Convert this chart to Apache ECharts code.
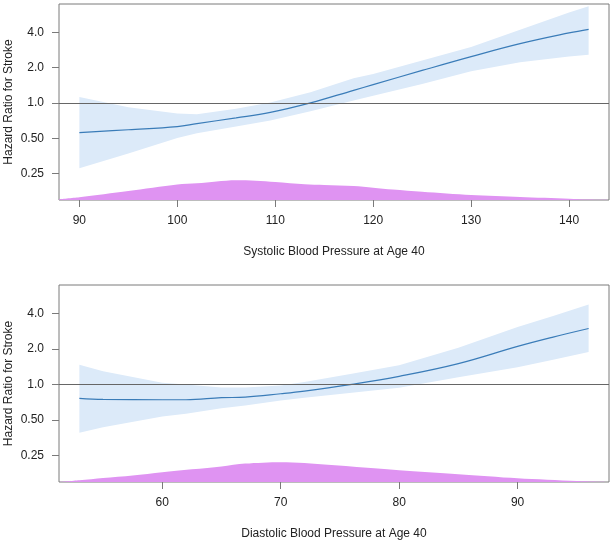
<!DOCTYPE html>
<html>
<head>
<meta charset="utf-8">
<script src="https://cdn.jsdelivr.net/npm/echarts@6/dist/echarts.min.js"></script>
<style>
html,body{margin:0;padding:0;background:#fff;}
#chart{width:616px;height:545px;}
</style>
</head>
<body>
<div id="chart"></div>
<script>
// ---- Data: systolic panel ----
const sbpX     = [90, 95, 100, 102, 106, 109.5, 113.6, 118, 120, 125, 130, 135, 140, 142];
const sbpHR    = [0.558, 0.59, 0.628, 0.666, 0.745, 0.83, 1.0, 1.28, 1.43, 1.89, 2.48, 3.2, 3.95, 4.24];
const sbpUpper = [1.12, 0.92, 0.81, 0.80, 0.89, 1.01, 1.23, 1.62, 1.76, 2.3, 3.0, 4.2, 5.9, 6.67];
const sbpLower = [0.277, 0.37, 0.503, 0.55, 0.628, 0.707, 0.85, 1.05, 1.15, 1.45, 1.86, 2.22, 2.48, 2.57];
const sbpDensX = [87.92, 90, 95, 100, 102, 104, 106, 108, 110, 113, 115, 118, 120, 122, 125, 130, 135, 140, 142, 144.08];
const sbpDens  = [0.7, 2.7, 9, 15.5, 16.7, 18.5, 19.7, 19.3, 18, 15.7, 15, 14, 12.3, 10.5, 8.3, 5, 3, 1.3, 0.4, 0];
const sbpTicks = [90, 100, 110, 120, 130, 140];

// ---- Data: diastolic panel ----
const dbpX     = [53, 55, 60, 62, 65, 67, 70, 72, 76, 80, 85, 90, 93, 96];
const dbpHR    = [0.76, 0.745, 0.741, 0.741, 0.771, 0.78, 0.833, 0.877, 1.0, 1.17, 1.5, 2.1, 2.52, 2.98];
const dbpUpper = [1.47, 1.29, 1.03, 1.0, 0.94, 0.94, 0.98, 1.05, 1.23, 1.45, 2.05, 3.07, 3.81, 4.76];
const dbpLower = [0.388, 0.433, 0.534, 0.563, 0.629, 0.663, 0.731, 0.771, 0.85, 0.937, 1.15, 1.4, 1.62, 1.88];
const dbpDensX = [51.28, 53, 55, 57.5, 60, 65, 67, 70, 72, 79, 80, 85, 90, 95, 97.72];
const dbpDens  = [0, 1.7, 4, 6.5, 9.8, 15.5, 18.3, 19.7, 19, 12.7, 11.7, 7.7, 3.7, 1, 0];
const dbpTicks = [60, 70, 80, 90];

// ---- Axis ticks / labels ----
const yTickValues = [0.25, 0.5, 1, 2, 4];
const yTickLabels = ['0.25', '0.50', '1.0', '2.0', '4.0'];
const yMin = Math.pow(2, -2.75), yMax = Math.pow(2, 2.8);
const densMax = 196;

const FONT = "'Liberation Sans', Arial, sans-serif";
const TXT = '#222';
const BOX = '#7a7a7a';
const BAND = '#dceaf9';
const LINE = '#3a7cb8';
const DENS = '#df93f2';

function pairs(xs, ys) { return xs.map((x, i) => [x, ys[i]]); }

function xAxisDef(gridIndex, min, max, ticks, name) {
  return {
    type: 'value', gridIndex, min, max,
    name, nameLocation: 'middle', nameGap: 46, nameMoveOverlap: false,
    nameTextStyle: { fontFamily: FONT, fontSize: 12, color: TXT },
    axisLine: { show: false },
    axisTick: { show: true, inside: false, length: 7, lineStyle: { color: BOX }, customValues: ticks },
    axisLabel: { fontFamily: FONT, fontSize: 12, color: TXT, margin: 15, customValues: ticks },
    splitLine: { show: false }
  };
}
function yAxisDef(gridIndex) {
  return {
    type: 'log', logBase: 2, gridIndex, min: yMin, max: yMax,
    name: 'Hazard Ratio for Stroke', nameLocation: 'middle', nameGap: 44, nameRotate: 90, nameMoveOverlap: false,
    nameTextStyle: { fontFamily: FONT, fontSize: 12, color: TXT },
    axisLine: { show: false },
    axisTick: { show: true, length: 7, lineStyle: { color: BOX }, customValues: yTickValues },
    axisLabel: {
      fontFamily: FONT, fontSize: 12, color: TXT, margin: 15, customValues: yTickValues,
      formatter: v => { const i = yTickValues.findIndex(t => Math.abs(t - v) < 1e-6); return i >= 0 ? yTickLabels[i] : ''; }
    },
    splitLine: { show: false }
  };
}
function densAxisDef(gridIndex) {
  return { type: 'value', gridIndex, min: 0, max: densMax, show: false, splitLine: { show: false } };
}

function bandSeries(xAxisIndex, yAxisIndex, xs, up, lo) {
  return {
    type: 'custom', xAxisIndex, yAxisIndex, silent: true, z: 2,
    data: [[xs[0], up[0]]],
    renderItem: function (params, api) {
      const pts = [];
      for (let i = 0; i < xs.length; i++) pts.push(api.coord([xs[i], up[i]]));
      for (let i = xs.length - 1; i >= 0; i--) pts.push(api.coord([xs[i], lo[i]]));
      return { type: 'polygon', shape: { points: pts }, style: { fill: BAND, stroke: null } };
    }
  };
}
function hrSeries(xAxisIndex, yAxisIndex, xs, ys) {
  return {
    type: 'line', xAxisIndex, yAxisIndex, data: pairs(xs, ys), smooth: 0.4,
    showSymbol: false, silent: true, z: 3,
    lineStyle: { color: LINE, width: 1.2 },
    markLine: {
      silent: true, symbol: ['none', 'none'], label: { show: false },
      lineStyle: { color: '#666', width: 1, type: 'solid' },
      data: [{ yAxis: 1 }]
    }
  };
}
function densSeries(xAxisIndex, yAxisIndex, xs, ys) {
  return {
    type: 'line', xAxisIndex, yAxisIndex, data: pairs(xs, ys), smooth: 0.3,
    showSymbol: false, silent: true, z: 1,
    lineStyle: { width: 0, color: DENS },
    areaStyle: { color: DENS, opacity: 1 }
  };
}

const chart = echarts.init(document.getElementById('chart'), null, { renderer: 'canvas' });
chart.setOption({
  animation: false,
  backgroundColor: '#fff',
  grid: [
    { left: 59, top: 4, width: 550, height: 196, show: true, borderColor: BOX, borderWidth: 1, backgroundColor: 'transparent', containLabel: false, outerBoundsMode: 'none' },
    { left: 59, top: 285, width: 550, height: 197, show: true, borderColor: BOX, borderWidth: 1, backgroundColor: 'transparent', containLabel: false, outerBoundsMode: 'none' }
  ],
  xAxis: [
    xAxisDef(0, 87.92, 144.08, sbpTicks, 'Systolic Blood Pressure at Age 40'),
    xAxisDef(1, 51.28, 97.72, dbpTicks, 'Diastolic Blood Pressure at Age 40')
  ],
  yAxis: [ yAxisDef(0), densAxisDef(0), yAxisDef(1), densAxisDef(1) ],
  series: [
    densSeries(0, 1, sbpDensX, sbpDens),
    bandSeries(0, 0, sbpX, sbpUpper, sbpLower),
    hrSeries(0, 0, sbpX, sbpHR),
    densSeries(1, 3, dbpDensX, dbpDens),
    bandSeries(1, 2, dbpX, dbpUpper, dbpLower),
    hrSeries(1, 2, dbpX, dbpHR)
  ]
});
</script>
</body>
</html>
